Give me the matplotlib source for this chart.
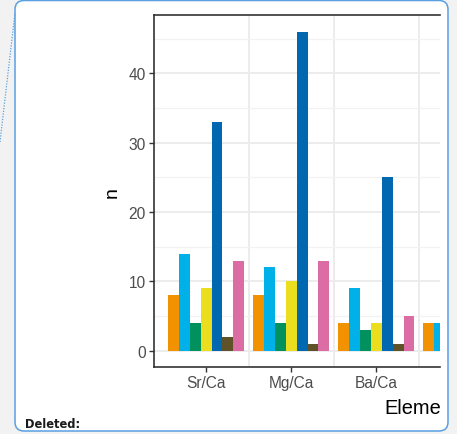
import numpy as np
import matplotlib
matplotlib.use("Agg")
import matplotlib.pyplot as plt
from matplotlib.patches import FancyBboxPatch
from matplotlib.transforms import Bbox
from matplotlib.ticker import MultipleLocator

# ---- data ----
elements = ["Sr/Ca", "Mg/Ca", "Ba/Ca", "Mn/Ca"]
series_colors = ["#F39200", "#00B0E8", "#00915F", "#EBDE1E",
                 "#0068B0", "#5F5228", "#DB6CA4"]
s1 = [8, 8, 4, 4]
s2 = [14, 12, 9, 4]
s3 = [4, 4, 3, np.nan]
s4 = [9, 10, 4, np.nan]
s5 = [33, 46, 25, np.nan]
s6 = [2, 1, 1, np.nan]
s7 = [13, 13, 5, np.nan]
series = [s1, s2, s3, s4, s5, s6, s7]
y_ticks = [0, 10, 20, 30, 40]

W, H = 457, 435
fig = plt.figure(figsize=(W / 100, H / 100), dpi=100)
fig.patch.set_facecolor("#f2f2f2")

# page layer in pixel units
bg = fig.add_axes([0, 0, 1, 1])
bg.set_xlim(0, W)
bg.set_ylim(H, 0)
bg.axis("off")
bg.add_patch(FancyBboxPatch((15, 1.5), 433, 430.5,
                            boxstyle="round,pad=0,rounding_size=9",
                            facecolor="white", edgecolor="#5aa0e0", lw=1.1))
bg.plot([0, 15], [143, 14], color="#5aa0e0", lw=0.9, ls=(0, (1, 1.2)))
bg.text(25, 428, "Deleted:", fontsize=8.3, fontweight="bold",
        family="DejaVu Sans", color="#1a1a1a", va="baseline", ha="left")

# chart panel
left, right = 154 / W, 440 / W
bottom, top = (H - 368) / H, (H - 16) / H
ax = fig.add_axes([left, bottom, right - left, top - bottom])
ax.set_facecolor("white")

x = np.arange(1, len(elements) + 1)
n = len(series)
bw = 0.9 / n
for i, (vals, col) in enumerate(zip(series, series_colors)):
    ax.bar(x - 0.45 + bw * (i + 0.5), vals, width=bw, color=col,
           edgecolor="none", zorder=3)

ax.set_xticks(x)
ax.set_xticklabels(elements)
ax.set_yticks(y_ticks)
ax.yaxis.set_minor_locator(MultipleLocator(5))
ax.set_xlim(0.388, 3.75)
ax.set_ylim(-2.35, 48.4)

ax.grid(axis="y", which="major", color="#ebebeb", lw=1.3, zorder=0)
ax.grid(axis="y", which="minor", color="#f2f2f2", lw=0.9, zorder=0)
for xv in [1.5, 2.5, 3.5]:
    ax.axvline(xv, color="#ebebeb", lw=1.3, zorder=0)

for side in ["left", "bottom", "top"]:
    ax.spines[side].set_color("#333333")
    ax.spines[side].set_linewidth(1.2)
ax.spines["right"].set_visible(False)

ax.tick_params(axis="both", which="major", length=3.8, width=1.0,
               color="#333333", labelcolor="#4d4d4d", labelsize=11.2, pad=2.2)
ax.tick_params(axis="y", which="minor", length=0)
for lbl in ax.get_xticklabels() + ax.get_yticklabels():
    lbl.set_family("Liberation Sans")

# axis titles
bg.text(112, 193, "n", rotation=90, ha="center", va="center",
        family="Liberation Sans", fontsize=14, color="black")
t = bg.text(384, 414, "Element", ha="left", va="baseline",
            family="Liberation Sans", fontsize=14.4, color="black")
t.set_clip_on(True)
t.set_clip_box(Bbox.from_extents(0, 0, 440, H))

fig.savefig("out.png", dpi=100, facecolor=fig.get_facecolor())
